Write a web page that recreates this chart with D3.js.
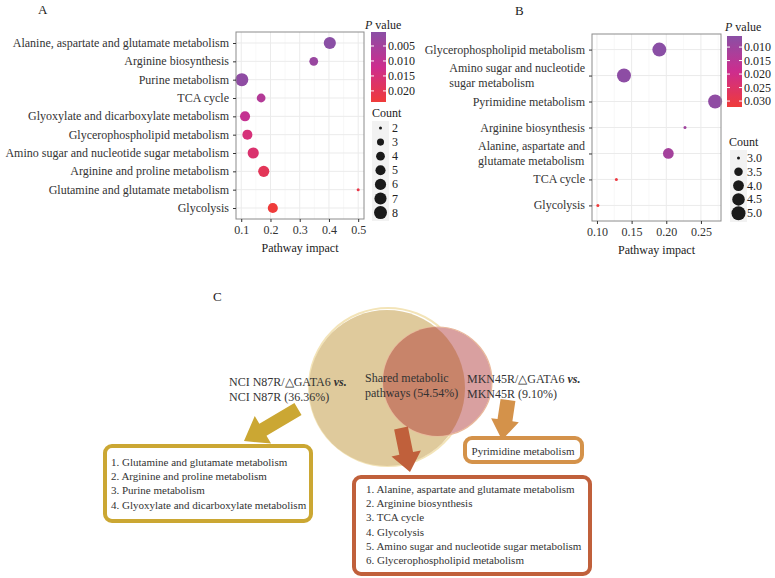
<!DOCTYPE html>
<html><head><meta charset="utf-8">
<script src="https://cdn.jsdelivr.net/npm/d3@7"></script>
<style>
body{margin:0;background:#fff}
svg{display:block}
text{font-family:"Liberation Serif","Times New Roman",serif;}
</style>
</head><body>
<svg id="c" width="775" height="578"></svg>
<script>
// ---------- DATA ----------
const pathwaysA = ["Alanine, aspartate and glutamate metabolism","Arginine biosynthesis","Purine metabolism","TCA cycle","Glyoxylate and dicarboxylate metabolism","Glycerophospholipid metabolism","Amino sugar and nucleotide sugar metabolism","Arginine and proline metabolism","Glutamine and glutamate metabolism","Glycolysis"];
const impactA = [0.403, 0.348, 0.102, 0.168, 0.113, 0.121, 0.141, 0.177, 0.500, 0.208];
const pvalueA = [0.00033, 0.0030, 0.0012, 0.0075, 0.0105, 0.0150, 0.0165, 0.0195, 0.0215, 0.0237];
const countA = [7, 4, 8, 4, 5, 5, 6, 6, 2, 5];

const pathwaysB = ["Glycerophospholipid metabolism","Amino sugar and nucleotide\nsugar metabolism","Pyrimidine metabolism","Arginine biosynthesis","Alanine, aspartate and\nglutamate metabolism","TCA cycle","Glycolysis"];
const impactB = [0.190, 0.139, 0.2705, 0.227, 0.203, 0.128, 0.1013];
const pvalueB = [0.0059, 0.0065, 0.0070, 0.0100, 0.0110, 0.0310, 0.0322];
const countB = [5, 5, 5, 3, 4, 3, 3];

const xTicksA = [0.1, 0.2, 0.3, 0.4, 0.5];
const xTicksB = [0.10, 0.15, 0.20, 0.25];
const pTicksA = [0.005, 0.010, 0.015, 0.020];
const pTicksB = [0.010, 0.015, 0.020, 0.025, 0.030];
const countTicksA = [2, 3, 4, 5, 6, 7, 8];
const countTicksB = [3.0, 3.5, 4.0, 4.5, 5.0];

const vennLeftLabel = ["NCI N87R/\u25B3GATA6 ", "NCI N87R (36.36%)"];
const vennSharedLabel = ["Shared metabolic", "pathways (54.54%)"];
const vennRightLabel = ["MKN45R/\u25B3GATA6 ", "MKN45R (9.10%)"];
const uniqueNCI = ["1. Glutamine and glutamate metabolism","2. Arginine and proline metabolism","3. Purine metabolism","4. Glyoxylate and dicarboxylate metabolism"];
const uniqueMKN = ["Pyrimidine metabolism"];
const sharedPathways = ["1. Alanine, aspartate and glutamate metabolism","2. Arginine biosynthesis","3. TCA cycle","4. Glycolysis","5. Amino sugar and nucleotide sugar metabolism","6. Glycerophospholipid metabolism"];

// ---------- DRAW ----------
const svg = d3.select("#c");
const defs = svg.append("defs");
const TXT = "#333";

function bubblePanel(o){
  const g = svg.append("g");
  const y = d3.scalePoint().domain(o.names).range([o.y0, o.y1]).padding(0.6);
  const ext = d3.extent(o.impact), pad = (ext[1]-ext[0])*0.05;
  const x = d3.scaleLinear().domain([ext[0]-pad, ext[1]+pad]).range([o.x0, o.x1]);
  const pExt = d3.extent(o.pval);
  const col = d3.scaleLinear().domain([pExt[0], (pExt[0]+pExt[1])/2, pExt[1]])
      .range(["#8A4FA5","#CD2D8E","#EF3B3A"]);
  const cExt = d3.extent(o.count);
  const cNorm = d3.scaleLinear().domain(cExt).range([0,1]);
  const rLin = d3.scaleLinear().domain([0,1]).range(o.rRange);
  const r = c => rLin(Math.sqrt(cNorm(c)));

  // grid
  const minor = d3.range(o.xTicks.length+1).map(i => o.xTicks[0] + (i-0.5)*(o.xTicks[1]-o.xTicks[0]))
      .filter(v => v > x.domain()[0] && v < x.domain()[1]);
  g.selectAll(".mn").data(minor).join("line")
    .attr("x1", d=>x(d)).attr("x2", d=>x(d)).attr("y1", o.y0).attr("y2", o.y1)
    .attr("stroke", "#F4F4F4").attr("stroke-width", 0.6);
  g.selectAll(".vx").data(o.xTicks).join("line")
    .attr("x1", d=>x(d)).attr("x2", d=>x(d)).attr("y1", o.y0).attr("y2", o.y1)
    .attr("stroke", "#EBEBEB").attr("stroke-width", 1);
  g.selectAll(".hy").data(o.names).join("line")
    .attr("x1", o.x0).attr("x2", o.x1).attr("y1", d=>y(d)).attr("y2", d=>y(d))
    .attr("stroke", "#EBEBEB").attr("stroke-width", 1);

  // points
  const pts = o.names.map((n,i)=>({n, x:o.impact[i], p:o.pval[i], c:o.count[i]}));
  g.selectAll(".pt").data(pts).join("circle")
    .attr("cx", d=>x(d.x)).attr("cy", d=>y(d.n)).attr("r", d=>r(d.c))
    .attr("fill", d=>col(d.p));

  // border
  g.append("rect").attr("x", o.x0).attr("y", o.y0).attr("width", o.x1-o.x0).attr("height", o.y1-o.y0)
    .attr("fill","none").attr("stroke","#8C8C8C").attr("stroke-width",1);

  // x axis
  const xa = g.append("g").attr("transform", `translate(0,${o.y1})`)
    .call(d3.axisBottom(x).tickValues(o.xTicks).tickFormat(o.xFmt).tickSize(3).tickPadding(3));
  xa.select(".domain").remove();
  xa.selectAll("line").attr("stroke", "#333");
  xa.selectAll("text").attr("font-size", 12).attr("fill", TXT).attr("font-family", "Liberation Serif");

  // y axis
  const ya = g.append("g").attr("transform", `translate(${o.x0},0)`)
    .call(d3.axisLeft(y).tickSize(3).tickPadding(4).tickFormat(""));
  ya.select(".domain").remove();
  ya.selectAll("line").attr("stroke", "#333");
  o.names.forEach(n => {
    const lines = n.split("\n");
    const t = g.append("text").attr("font-size", 12).attr("fill", TXT);
    lines.forEach((l,i) => t.append("tspan").text(l)
      .attr("y", y(n) + 4 + (i - (lines.length-1)/2)*14.5));
    const w = d3.max(t.selectAll("tspan").nodes(), s => s.getComputedTextLength());
    t.selectAll("tspan").attr("x", o.x0 - 7 - w);
  });

  // x title
  g.append("text").attr("x", (o.x0+o.x1)/2).attr("y", o.y1+33).attr("text-anchor","middle")
    .attr("font-size", 12).attr("fill", "#222").text("Pathway impact");

  // colorbar
  const cb = o.cbar;
  const gid = "grad"+o.id;
  const grad = defs.append("linearGradient").attr("id", gid).attr("x1",0).attr("x2",0).attr("y1",0).attr("y2",1);
  d3.range(0, 1.0001, 0.05).forEach(t => grad.append("stop").attr("offset", t)
    .attr("stop-color", col(pExt[0] + t*(pExt[1]-pExt[0]))));
  g.append("rect").attr("x", cb.x).attr("y", cb.y0).attr("width", cb.w).attr("height", cb.y1-cb.y0)
    .attr("fill", `url(#${gid})`);
  const pY = d3.scaleLinear().domain(pExt).range([cb.y0, cb.y1]);
  o.pTicks.forEach(p => {
    g.append("line").attr("x1", cb.x).attr("x2", cb.x+3).attr("y1", pY(p)).attr("y2", pY(p)).attr("stroke","#fff");
    g.append("line").attr("x1", cb.x+cb.w-3).attr("x2", cb.x+cb.w).attr("y1", pY(p)).attr("y2", pY(p)).attr("stroke","#fff");
    g.append("text").attr("x", cb.x+cb.w+2).attr("y", pY(p)+4).attr("font-size", 12).attr("fill","#222").text(o.pFmt(p));
  });
  const pt = g.append("text").attr("x", cb.tx).attr("y", cb.ty).attr("font-size", 12).attr("fill","#222");
  pt.append("tspan").attr("font-style","italic").text("P");
  pt.append("tspan").text(" value");

  // count legend
  const lg = o.leg;
  g.append("text").attr("x", lg.tx).attr("y", lg.ty).attr("font-size", 12).attr("fill","#222").text("Count");
  g.append("rect").attr("x", lg.bx).attr("y", lg.by0).attr("width", lg.bw).attr("height", lg.by1-lg.by0).attr("fill","#F2F2F2");
  o.countTicks.forEach((c,i) => {
    const cy = lg.y0 + i*lg.step;
    g.append("circle").attr("cx", lg.cx).attr("cy", cy).attr("r", r(c)).attr("fill","#1A1A1A");
    g.append("text").attr("x", lg.lx).attr("y", cy+4).attr("font-size", 12).attr("fill","#222").text(o.cFmt(c));
  });
}

bubblePanel({id:"A", names:pathwaysA, impact:impactA, pval:pvalueA, count:countA,
  x0:236, x1:364, y0:32, y1:219, xTicks:xTicksA, xFmt:d3.format(".1f"), rRange:[1.5,6.5],
  pTicks:pTicksA, pFmt:d3.format(".3f"), cbar:{x:371, y0:32, y1:102, w:15, tx:365, ty:29},
  countTicks:countTicksA, cFmt:d3.format("d"),
  leg:{tx:372, ty:117, bx:372, bw:17, by0:121, by1:221, cx:380.5, y0:128, step:14.1, lx:392}});

bubblePanel({id:"B", names:pathwaysB, impact:impactB, pval:pvalueB, count:countB,
  x0:592, x1:721, y0:34, y1:221, xTicks:xTicksB, xFmt:d3.format(".2f"), rRange:[1.5,7],
  pTicks:pTicksB, pFmt:d3.format(".3f"), cbar:{x:727, y0:36, y1:107, w:15, tx:725, ty:31},
  countTicks:countTicksB, cFmt:d3.format(".1f"),
  leg:{tx:729, ty:146, bx:730, bw:17, by0:150, by1:222, cx:738.5, y0:158, step:13.8, lx:747}});

// panel letters
[["A",38,14],["B",515,15],["C",213,301]].forEach(([t,x,y]) =>
  svg.append("text").attr("x",x).attr("y",y).attr("font-size",13).attr("fill","#222").text(t));

// ---------- VENN ----------
const vg = svg.append("g");
const big = {cx:387, cy:388, r:78};
const small = {cx:437.5, cy:381.5, r:54.5};
defs.append("clipPath").attr("id","clipBig").append("circle").attr("cx",big.cx).attr("cy",big.cy).attr("r",big.r);
vg.append("circle").attr("cx",big.cx+1).attr("cy",big.cy-1).attr("r",big.r+1).attr("fill","none").attr("stroke","#F3E4B8").attr("stroke-width",2);
vg.append("circle").attr("cx",big.cx).attr("cy",big.cy).attr("r",big.r).attr("fill","#DFCA9C");
vg.append("circle").attr("cx",small.cx).attr("cy",small.cy).attr("r",small.r).attr("fill","#D9A0A0")
  .attr("stroke","#E9B99C").attr("stroke-width",1.2);
vg.append("circle").attr("cx",small.cx).attr("cy",small.cy).attr("r",small.r).attr("fill","#C8846A").attr("clip-path","url(#clipBig)");

function twoLines(lines, x, y, italicVs){
  const t = vg.append("text").attr("font-size",12).attr("fill","#333");
  lines.forEach((l,i)=>{
    const ts = t.append("tspan").attr("x",x).attr("y",y+i*14.5).text(l);
    if(i===0 && italicVs) t.append("tspan").attr("font-style","italic").attr("font-weight","bold").text("vs.");
  });
}
twoLines(vennLeftLabel, 229, 386, true);
twoLines(vennSharedLabel, 365, 382, false);
twoLines(vennRightLabel, 467, 383, true);

function blockArrow(x1,y1,x2,y2,sw,hw,hl,color){
  const L = Math.hypot(x2-x1,y2-y1), a = Math.atan2(y2-y1,x2-x1)*180/Math.PI;
  const p = [[0,-sw/2],[L-hl,-sw/2],[L-hl,-hw/2],[L,0],[L-hl,hw/2],[L-hl,sw/2],[0,sw/2]];
  vg.append("path").attr("d", d3.line()(p)+"Z").attr("fill",color)
    .attr("transform",`translate(${x1},${y1}) rotate(${a})`);
}
blockArrow(298,409,244,441,14,32,22,"#CBA733");
blockArrow(401,428,410,472,14,30,19,"#C0603B");
blockArrow(508,400,502,440,15,28,20,"#D4924A");

function listBox(lines, x, y, w, h, color, tx, ty, anchor){
  vg.append("rect").attr("x",x).attr("y",y).attr("width",w).attr("height",h).attr("rx",7)
    .attr("fill","#fff").attr("stroke",color).attr("stroke-width",4);
  const t = vg.append("text").attr("font-size",11).attr("fill","#333").attr("text-anchor",anchor||"start");
  lines.forEach((l,i)=> t.append("tspan").attr("x",tx).attr("y",ty+i*14.2).text(l));
}
listBox(uniqueNCI, 105, 446, 206, 75, "#CBA733", 111, 466);
listBox(uniqueMKN, 465, 438, 117, 24, "#D4924A", 523, 455, "middle");
listBox(sharedPathways, 354, 477, 236, 97, "#C0603B", 366, 493);
</script>
</body></html>
